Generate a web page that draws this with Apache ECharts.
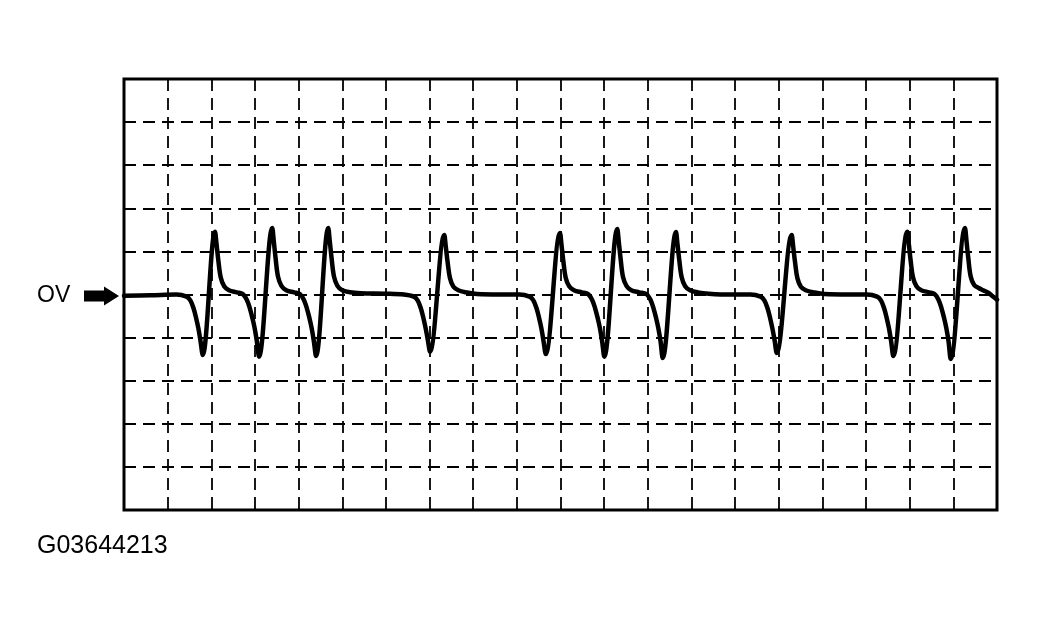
<!DOCTYPE html>
<html>
<head>
<meta charset="utf-8">
<script src="https://cdn.jsdelivr.net/npm/echarts@6/dist/echarts.min.js"></script>
<style>
html,body{margin:0;padding:0;background:#fff;}
#chart{width:1037px;height:631px;}
</style>
</head>
<body>
<div id="chart"></div>
<script>
// Axis ranges in screen divisions (20 horizontal x 10 vertical)
const xDivisions = [0, 20];
const yDivisions = [-5, 5];
const zeroLabel = "OV";
const figureCode = "G03644213";

// Waveform points [time division, volts division]
const waveform = [
  [0, -0.03], [0.6, -0.02], [1.20, 0],
  // pulse 1
  [1.433, -0.05], [1.523, -0.14], [1.593, -0.32], [1.653, -0.55], [1.703, -0.78], [1.753, -1.08], [1.803, -1.404],
  [2.085, 1.457], [2.12, 1.17], [2.16, 0.80], [2.215, 0.40], [2.295, 0.19], [2.405, 0.10], [2.585, 0.05],
  // pulse 2
  [2.723, 0.01], [2.813, -0.12], [2.883, -0.32], [2.943, -0.55], [2.993, -0.78], [3.043, -1.08], [3.093, -1.443],
  [3.397, 1.543], [3.432, 1.23], [3.472, 0.85], [3.527, 0.42], [3.607, 0.20], [3.717, 0.10], [3.897, 0.05],
  // pulse 3
  [4.029, 0.01], [4.119, -0.12], [4.189, -0.32], [4.249, -0.55], [4.299, -0.78], [4.349, -1.08], [4.399, -1.427],
  [4.680, 1.543], [4.715, 1.23], [4.755, 0.85], [4.81, 0.42], [4.89, 0.20], [5.00, 0.10], [5.18, 0.05],
  [5.43, 0.03], [6.0, 0.02], [6.41, 0],
  // pulse 4
  [6.64, -0.05], [6.73, -0.14], [6.80, -0.32], [6.86, -0.55], [6.91, -0.78], [6.96, -1.05], [7.010, -1.327],
  [7.338, 1.381], [7.373, 1.10], [7.413, 0.76], [7.468, 0.38], [7.548, 0.18], [7.658, 0.10], [7.838, 0.05],
  [8.088, 0.01], [8.6, 0], [9.06, 0],
  // pulse 5
  [9.291, -0.05], [9.381, -0.14], [9.451, -0.32], [9.511, -0.55], [9.561, -0.78], [9.611, -1.08], [9.661, -1.381],
  [9.989, 1.427], [10.024, 1.14], [10.064, 0.78], [10.119, 0.39], [10.199, 0.19], [10.309, 0.10], [10.489, 0.05],
  // pulse 6
  [10.633, 0.01], [10.723, -0.12], [10.793, -0.32], [10.853, -0.55], [10.903, -0.78], [10.953, -1.08], [11.003, -1.443],
  [11.301, 1.520], [11.336, 1.22], [11.376, 0.84], [11.431, 0.41], [11.511, 0.20], [11.621, 0.10], [11.801, 0.05],
  // pulse 7
  [11.971, 0.01], [12.061, -0.12], [12.131, -0.32], [12.191, -0.55], [12.241, -0.78], [12.291, -1.08], [12.341, -1.473],
  [12.646, 1.450], [12.681, 1.16], [12.721, 0.80], [12.776, 0.40], [12.856, 0.19], [12.966, 0.10], [13.146, 0.05],
  [13.396, 0.02], [13.9, 0], [14.35, 0],
  // pulse 8
  [14.583, -0.05], [14.673, -0.14], [14.743, -0.32], [14.803, -0.55], [14.853, -0.78], [14.903, -1.05], [14.953, -1.357],
  [15.297, 1.381], [15.332, 1.10], [15.372, 0.76], [15.427, 0.38], [15.507, 0.18], [15.617, 0.10], [15.797, 0.05],
  [16.047, 0.01], [16.6, 0], [17.02, 0],
  // pulse 9
  [17.254, -0.05], [17.344, -0.14], [17.414, -0.32], [17.474, -0.55], [17.524, -0.78], [17.574, -1.08], [17.624, -1.427],
  [17.945, 1.457], [17.98, 1.17], [18.02, 0.80], [18.075, 0.40], [18.155, 0.19], [18.265, 0.10], [18.445, 0.05],
  // pulse 10
  [18.569, 0.01], [18.659, -0.12], [18.729, -0.32], [18.789, -0.55], [18.839, -0.78], [18.889, -1.08], [18.939, -1.497],
  [19.267, 1.543], [19.302, 1.23], [19.342, 0.85], [19.397, 0.42], [19.477, 0.22], [19.58, 0.15], [19.68, 0.10],
  [19.80, 0.04], [19.90, -0.04], [20.0, -0.12]
];

const chart = echarts.init(document.getElementById('chart'), null, {renderer: 'canvas'});
const gridLine = {show: true, lineStyle: {color: '#000', width: 1.8, type: [12, 7]}};
chart.setOption({
  animation: false,
  backgroundColor: '#fff',
  grid: {left: 124, top: 79, width: 873, height: 431, show: true, borderColor: '#000', borderWidth: 3, backgroundColor: 'transparent'},
  xAxis: {
    type: 'value', min: xDivisions[0], max: xDivisions[1], interval: 1,
    axisLine: {show: false}, axisTick: {show: false}, axisLabel: {show: false},
    splitLine: gridLine
  },
  yAxis: {
    type: 'value', min: yDivisions[0], max: yDivisions[1], interval: 1,
    axisLine: {show: false}, axisTick: {show: false}, axisLabel: {show: false},
    splitLine: gridLine
  },
  series: [{
    type: 'line',
    data: waveform,
    showSymbol: false,
    smooth: 0.35,
    clip: true,
    lineStyle: {color: '#000', width: 4.5, join: 'round', cap: 'round'}
  }],
  graphic: [
    {type: 'text', left: 37, top: 284, style: {text: zeroLabel, font: '23px "Liberation Sans", Arial, sans-serif', fill: '#000'}},
    {type: 'polygon', shape: {points: [[84, 290.5], [104, 290.5], [104, 286.5], [119, 296], [104, 305.5], [104, 301.5], [84, 301.5]]}, style: {fill: '#000'}},
    {type: 'text', left: 37, top: 534, style: {text: figureCode, font: '25px "Liberation Sans", Arial, sans-serif', fill: '#000'}}
  ]
});
</script>
</body>
</html>
